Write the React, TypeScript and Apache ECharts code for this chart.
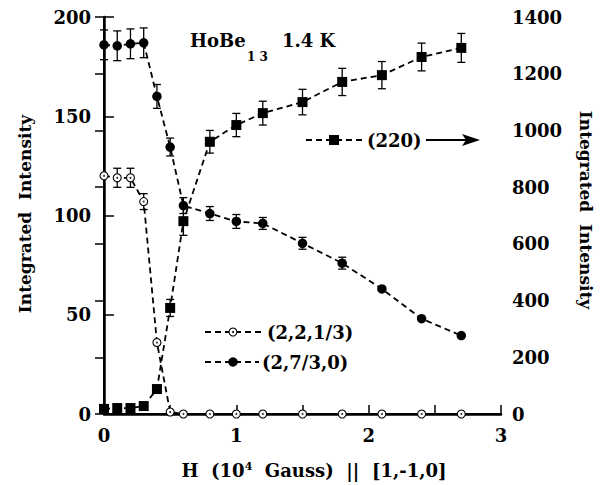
import React, { useEffect, useRef } from 'react';
import * as echarts from 'echarts';

// Magnetic field H (10^4 Gauss)
const fieldH = [0, 0.1, 0.2, 0.3, 0.4, 0.5, 0.6, 0.8, 1.0, 1.2, 1.5, 1.8, 2.1, 2.4, 2.7];
// (2,7/3,0) filled circles, left axis
const peak2730 = [186, 185.5, 186.5, 187, 160, 134.5, 105, 101, 97, 96, 86, 76, 63, 48, 39.5];
const peak2730Err = [7.5, 7.5, 7.5, 7.5, 6, 4.5, 4, 3.5, 3.5, 3, 3, 3, 0, 0, 0];
// (2,2,1/3) open circles, left axis
const peak22third = [120, 119, 119, 107, 36, 1, 0, 0, 0, 0, 0, 0, 0, 0, 0];
const peak22thirdErr = [0, 4.8, 4.8, 4, 0, 0, 0, 0, 0, 0, 0, 0, 0, 0, 0];
// (220) squares, right axis
const peak220 = [18, 21, 21, 28, 88, 374, 680, 960, 1019, 1061, 1100, 1171, 1195, 1259, 1291];
const peak220Err = [0, 0, 0, 0, 12, 30, 50, 40, 41, 42, 45, 48, 48, 49, 51];

const FONT = 'DejaVu Serif';

function errSeries(vals: number[], errs: number[], yAxisIndex: number) {
  return {
    type: 'custom',
    xAxisIndex: 0,
    yAxisIndex,
    silent: true,
    clip: false,
    z: 1,
    encode: { x: 0, y: 1 },
    data: fieldH.map((x, i) => [x, vals[i], errs[i]]),
    renderItem: (_params: any, api: any) => {
      const x = api.value(0);
      const y = api.value(1);
      const e = api.value(2);
      if (!e) return { type: 'group', children: [] };
      const top = api.coord([x, y + e]);
      const bot = api.coord([x, y - e]);
      const cx = top[0];
      const w = 4;
      const st = { stroke: '#000', lineWidth: 1.3 };
      return {
        type: 'group',
        children: [
          { type: 'line', shape: { x1: cx, y1: top[1], x2: cx, y2: bot[1] }, style: st },
          { type: 'line', shape: { x1: cx - w, y1: top[1], x2: cx + w, y2: top[1] }, style: st },
          { type: 'line', shape: { x1: cx - w, y1: bot[1], x2: cx + w, y2: bot[1] }, style: st },
        ],
      };
    },
  };
}

const dashed = { color: '#000', width: 1.8, type: [6, 4] as number[] };

export default function App() {
  const ref = useRef<HTMLDivElement>(null);
  useEffect(() => {
    const chart = echarts.init(ref.current!, null, { renderer: 'svg' });
    const labelStyle = { color: '#000', fontFamily: FONT, fontWeight: 'bold' as const, fontSize: 18 };
    const option: any = {
      animation: false,
      backgroundColor: '#fff',
      grid: { left: 104, top: 17, width: 397, height: 397 },
      xAxis: [
        {
          type: 'value',
          position: 'bottom',
          min: 0,
          max: 3,
          interval: 0.5,
          axisLine: { lineStyle: { color: '#000', width: 2.5 } },
          axisTick: { inside: true, length: 9, lineStyle: { color: '#000', width: 1.5 } },
          axisLabel: {
            ...labelStyle,
            margin: 12,
            formatter: (v: number) => (Number.isInteger(v) ? String(v) : ''),
          },
          splitLine: { show: false },
        },
        {
          type: 'value',
          position: 'top',
          min: 0,
          max: 3,
          axisLine: { lineStyle: { color: '#000', width: 2 } },
          axisTick: { show: false },
          axisLabel: { show: false },
          splitLine: { show: false },
        },
      ],
      yAxis: [
        {
          type: 'value',
          position: 'left',
          min: 0,
          max: 200,
          interval: 50,
          axisLine: { show: true, lineStyle: { color: '#000', width: 2.5 } },
          axisTick: { show: true, inside: true, length: 10, lineStyle: { color: '#000', width: 1.5 } },
          axisLabel: { ...labelStyle, margin: 13, formatter: (v: number) => String(v) },
          splitLine: { show: false },
        },
        {
          type: 'value',
          position: 'right',
          min: 0,
          max: 1400,
          interval: 200,
          axisLine: { show: true, lineStyle: { color: '#000', width: 2 } },
          axisTick: { show: true, inside: true, length: 9, lineStyle: { color: '#000', width: 1.5 } },
          axisLabel: { ...labelStyle, margin: 11, formatter: (v: number) => String(v) },
          splitLine: { show: false },
        },
      ],
      series: [
        errSeries(peak2730, peak2730Err, 0),
        errSeries(peak22third, peak22thirdErr, 0),
        errSeries(peak220, peak220Err, 1),
        {
          name: '(2,7/3,0)',
          type: 'line',
          yAxisIndex: 0,
          data: fieldH.map((x, i) => [x, peak2730[i]]),
          symbol: 'circle',
          symbolSize: 9.5,
          itemStyle: { color: '#000' },
          lineStyle: dashed,
          clip: false,
          z: 3,
        },
        {
          name: '(2,2,1/3)',
          type: 'line',
          yAxisIndex: 0,
          data: fieldH.map((x, i) => [x, peak22third[i]]),
          symbol: 'circle',
          symbolSize: 8,
          itemStyle: { color: '#fff', borderColor: '#000', borderWidth: 1.1 },
          lineStyle: dashed,
          clip: false,
          z: 3,
        },
        {
          type: 'scatter',
          yAxisIndex: 0,
          data: fieldH.map((x, i) => [x, peak22third[i]]),
          symbol: 'circle',
          symbolSize: 2,
          itemStyle: { color: '#000' },
          silent: true,
          clip: false,
          z: 4,
        },
        {
          name: '(220)',
          type: 'line',
          yAxisIndex: 1,
          data: fieldH.map((x, i) => [x, peak220[i]]),
          symbol: 'rect',
          symbolSize: 10,
          itemStyle: { color: '#000' },
          lineStyle: dashed,
          clip: false,
          z: 3,
        },
      ],
      graphic: [
        // title
        { type: 'text', x: 190, y: 40, style: { text: 'HoBe', fill: '#000', font: `bold 18px "${FONT}"`, align: 'left', verticalAlign: 'middle' } },
        { type: 'text', x: 247, y: 57, style: { text: '1 3', fill: '#000', font: `bold 12px "${FONT}"`, align: 'left', verticalAlign: 'middle' } },
        { type: 'text', x: 282, y: 40, style: { text: '1.4 K', fill: '#000', font: `bold 18px "${FONT}"`, align: 'left', verticalAlign: 'middle' } },
        // axis names
        { type: 'text', x: 25, y: 214, rotation: Math.PI / 2, style: { text: 'Integrated  Intensity', fill: '#000', font: `bold 17px "${FONT}"`, align: 'center', verticalAlign: 'middle' } },
        { type: 'text', x: 586, y: 210, rotation: -Math.PI / 2, style: { text: 'Integrated  Intensity', fill: '#000', font: `bold 17px "${FONT}"`, align: 'center', verticalAlign: 'middle' } },
        {
          type: 'text', x: 314, y: 470,
          style: {
            text: '{a|H  (10}{s|4}{a|  Gauss)  ||  [1,-1,0]}',
            align: 'center', verticalAlign: 'middle',
            rich: {
              a: { fontFamily: FONT, fontWeight: 'bold', fontSize: 18, fill: '#000', color: '#000' },
              s: { fontFamily: FONT, fontWeight: 'bold', fontSize: 11, fill: '#000', color: '#000', verticalAlign: 'top' },
            },
          },
        },
        // legend (220) with arrow
        { type: 'line', shape: { x1: 306, y1: 140, x2: 364, y2: 140 }, style: { stroke: '#000', lineWidth: 1.8, lineDash: [6, 4] } },
        { type: 'rect', shape: { x: 329, y: 135, width: 10, height: 10 }, style: { fill: '#000' } },
        { type: 'text', x: 367, y: 140, style: { text: '(220)', fill: '#000', font: `bold 18px "${FONT}"`, align: 'left', verticalAlign: 'middle' } },
        { type: 'line', shape: { x1: 426, y1: 140, x2: 472, y2: 140 }, style: { stroke: '#000', lineWidth: 1.8 } },
        { type: 'polygon', shape: { points: [[480, 140], [462, 134], [466, 140], [462, 146]] }, style: { fill: '#000' } },
        // legend (2,2,1/3)
        { type: 'line', shape: { x1: 205, y1: 332, x2: 264, y2: 332 }, style: { stroke: '#000', lineWidth: 1.8, lineDash: [6, 4] } },
        { type: 'circle', shape: { cx: 233, cy: 332, r: 4 }, style: { fill: '#fff', stroke: '#000', lineWidth: 1.1 } },
        { type: 'circle', shape: { cx: 233, cy: 332, r: 1 }, style: { fill: '#000' } },
        { type: 'text', x: 267, y: 332, style: { text: '(2,2,1/3)', fill: '#000', font: `bold 18px "${FONT}"`, align: 'left', verticalAlign: 'middle' } },
        // legend (2,7/3,0)
        { type: 'line', shape: { x1: 205, y1: 362, x2: 259, y2: 362 }, style: { stroke: '#000', lineWidth: 1.8, lineDash: [6, 4] } },
        { type: 'circle', shape: { cx: 233, cy: 362, r: 4.75 }, style: { fill: '#000' } },
        { type: 'text', x: 262, y: 362, style: { text: '(2,7/3,0)', fill: '#000', font: `bold 18px "${FONT}"`, align: 'left', verticalAlign: 'middle' } },
      ],
    };
    chart.setOption(option);
    return () => chart.dispose();
  }, []);
  return (
    <div
      ref={ref}
      style={{ position: 'absolute', left: 0, top: 0, width: 603, height: 485, background: '#fff' }}
    />
  );
}
